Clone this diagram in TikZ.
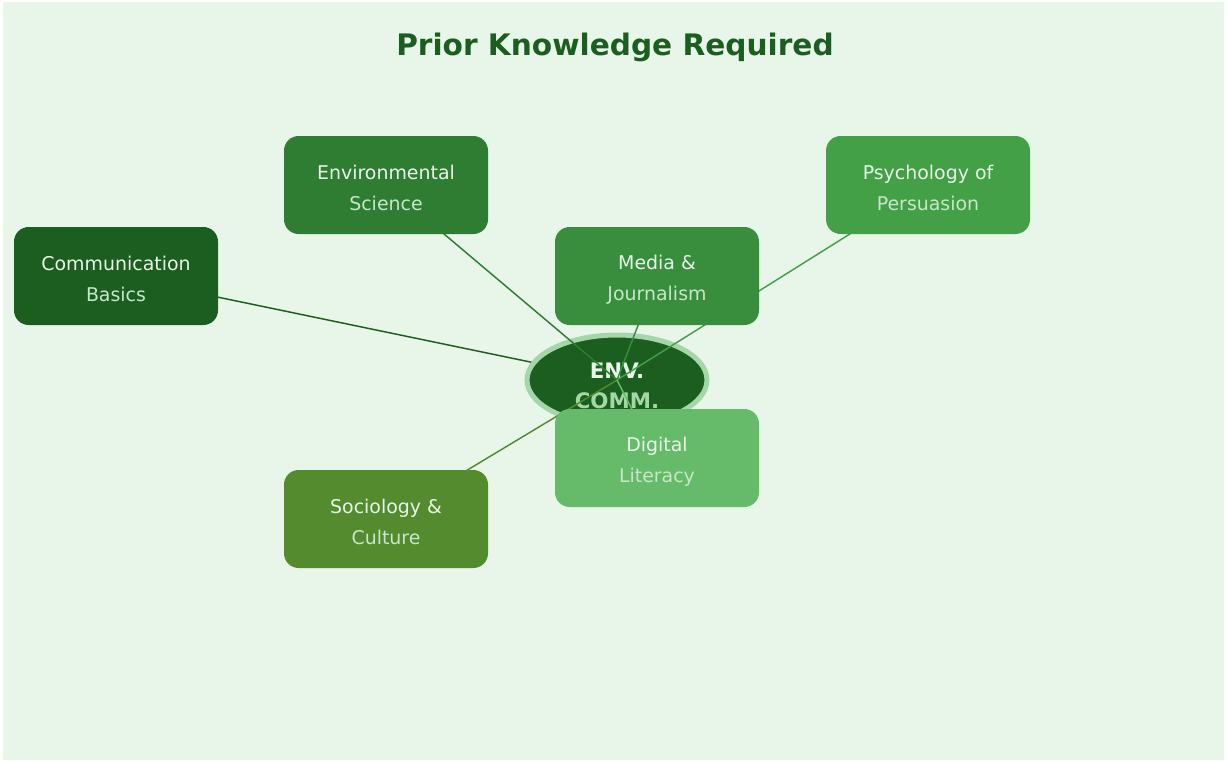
\documentclass[tikz,border=0pt]{standalone}
\usepackage{fontspec}
\setmainfont{DejaVu Sans}
\usetikzlibrary{shapes.geometric}
\pgfdeclarelayer{bgl}
\pgfdeclarelayer{lowedge}
\pgfdeclarelayer{hub}
\pgfdeclarelayer{edges}
\pgfsetlayers{bgl,lowedge,hub,edges,main}
\definecolor{bgc}{HTML}{E8F5E9}
\definecolor{cA}{HTML}{1B5E20}
\definecolor{cB}{HTML}{2E7D32}
\definecolor{cC}{HTML}{388E3C}
\definecolor{cD}{HTML}{43A047}
\definecolor{cE}{HTML}{558B2F}
\definecolor{cF}{HTML}{66BB6A}
\definecolor{tOne}{HTML}{E8F5E9}
\definecolor{tTwo}{HTML}{C8E6C9}
\definecolor{ring}{HTML}{A5D6A7}
\tikzset{
  topic/.style={rectangle, rounded corners=11pt, minimum width=153pt, minimum height=73.5pt,
    inner sep=0pt},
  topictext/.style={align=center, inner sep=0pt, yshift=-2.5pt, font=\fontsize{14.2}{23.2}\selectfont},
  link/.style={line width=1.1pt},
}
\newcommand{\twol}[2]{{\color{tOne}#1}\\{\color{tTwo}#2}}
\begin{document}
\begin{tikzpicture}[x=0.75pt,y=-0.75pt]
\useasboundingbox (0,0) rectangle (1227,760);
\begin{pgfonlayer}{bgl}
\fill[white] (0,0) rectangle (1227,760);
\fill[bgc] (3,2) rectangle (1224,760);
\end{pgfonlayer}
\node[text=cA, font=\fontsize{22.2}{26}\bfseries] (title) at (615,47.5) {Prior Knowledge Required};
\begin{pgfonlayer}{hub}
\node[ellipse, fill=cA, draw=ring, line width=3.75pt, minimum width=135pt, minimum height=67.5pt,
  inner sep=0pt,
  label={[align=center, inner sep=0pt, yshift=-4.5pt, font=\fontsize{16}{23}\bfseries]center:{\color{tOne}ENV.}\\{\color{ring}COMM.}}] (hub) at (617,380) {};
\end{pgfonlayer}
\node[topic, fill=cA, label={[topictext]center:\twol{Communication}{Basics}}] (comm) at (116,276) {};
\node[topic, fill=cB, label={[topictext]center:\twol{Environmental}{Science}}] (env) at (386,185) {};
\node[topic, fill=cC, label={[topictext]center:\twol{Media \&}{Journalism}}] (media) at (657,276) {};
\node[topic, fill=cD, label={[topictext]center:\twol{Psychology of}{Persuasion}}] (psych) at (928,185) {};
\node[topic, fill=cE, label={[topictext]center:\twol{Sociology \&}{Culture}}] (socio) at (386,519) {};
\node[topic, fill=cF, label={[topictext]center:\twol{Digital}{Literacy}}] (digital) at (657,458) {};
\begin{pgfonlayer}{lowedge}
\draw[link, cA] (comm.center) -- (hub.center);
\end{pgfonlayer}
\begin{pgfonlayer}{edges}
\draw[link, cB] (env.center) -- (hub.center);
\draw[link, cC] (media.center) -- (hub.center);
\draw[link, cD] (psych.center) -- (hub.center);
\draw[link, cE] (socio.center) -- (hub.center);
\draw[link, cF] (digital.center) -- (hub.center);
\end{pgfonlayer}
\end{tikzpicture}
\end{document}
